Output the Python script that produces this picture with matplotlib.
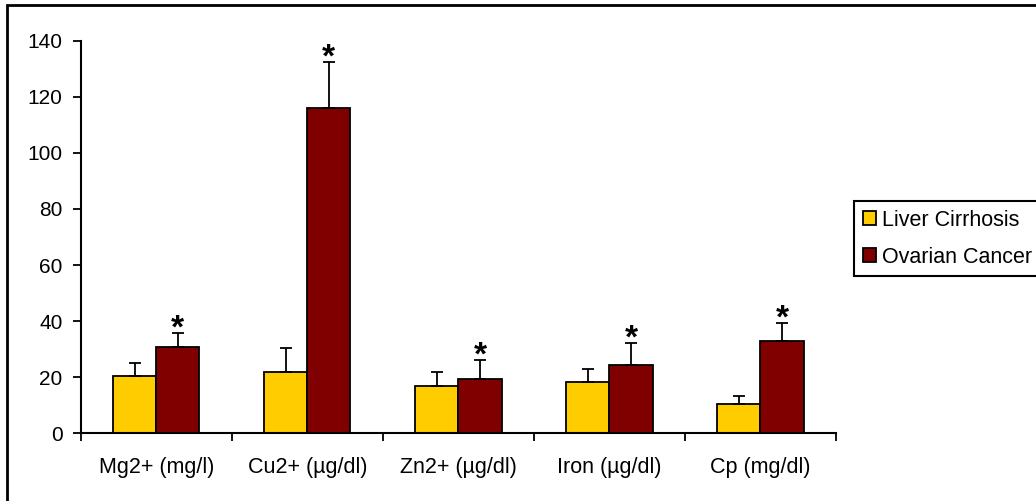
import matplotlib
matplotlib.use("Agg")
import matplotlib.pyplot as plt
import numpy as np
from matplotlib.patches import Rectangle

categories = ["Mg2+ (mg/l)", "Cu2+ (µg/dl)", "Zn2+ (µg/dl)", "Iron (µg/dl)", "Cp (mg/dl)"]
liver_cirrhosis = [20.5, 21.9, 17.0, 18.2, 10.3]
liver_cirrhosis_err = [4.5, 8.5, 5.0, 4.8, 3.1]
ovarian_cancer = [30.9, 116.1, 19.4, 24.3, 32.8]
ovarian_cancer_err = [5.0, 16.4, 6.7, 8.0, 6.6]
significant = [True, True, True, True, True]
series_names = ["Liver Cirrhosis", "Ovarian Cancer"]
yticks = [0, 20, 40, 60, 80, 100, 120, 140]

plt.rcParams['font.family'] = ['Liberation Sans', 'DejaVu Sans']
W, H = 1036, 501
fig = plt.figure(figsize=(W/100, H/100), dpi=100)
ax = fig.add_axes([80.7/W, 1-433.3/H, (836-80.7)/W, (433.3-40.7)/H])

x = np.arange(len(categories))
bw = 0.286
c1, c2 = "#FFCC00", "#800000"
ax.bar(x - bw/2, liver_cirrhosis, bw, color=c1, edgecolor="black", linewidth=1.3,
       yerr=[np.zeros(len(x)), liver_cirrhosis_err], capsize=4,
       error_kw=dict(elinewidth=1.3, capthick=1.3, ecolor="black"), label=series_names[0], zorder=2)
ax.bar(x + bw/2, ovarian_cancer, bw, color=c2, edgecolor="black", linewidth=1.3,
       yerr=[np.zeros(len(x)), ovarian_cancer_err], capsize=4,
       error_kw=dict(elinewidth=1.3, capthick=1.3, ecolor="black"), label=series_names[1], zorder=2)

for i, s in enumerate(significant):
    if s:
        ax.annotate("*", (x[i] + bw/2, ovarian_cancer[i] + ovarian_cancer_err[i]),
                    xytext=(0, -8.5), textcoords="offset points", ha="center", va="bottom",
                    fontsize=24, fontweight="bold")

ax.set_xlim(-0.5, len(categories) - 0.5)
ax.set_ylim(0, 140)
ax.set_yticks(yticks)
ax.set_xticks(np.arange(len(categories) + 1) - 0.5, minor=False)
ax.set_xticklabels([])
ax.set_xticks(x, minor=True)
ax.set_xticklabels(categories, minor=True)
ax.tick_params(axis="x", which="minor", length=0, pad=17, labelsize=15.5)
ax.tick_params(axis="x", which="major", length=6, width=1.3, direction="out")
ax.tick_params(axis="y", length=6, width=1.3, direction="out", pad=7, labelsize=15)
for sp in ["top", "right"]:
    ax.spines[sp].set_visible(False)
for sp in ["left", "bottom"]:
    ax.spines[sp].set_linewidth(1.5)

leg = fig.legend(loc="upper left", bbox_to_anchor=(854/W, 1-201/H), borderaxespad=0,
                 fontsize=15.5, frameon=True, fancybox=False, framealpha=1,
                 handlelength=0.6, handleheight=0.6, handletextpad=0.3,
                 labelspacing=0.75, borderpad=0.4)
leg.get_frame().set_edgecolor("black")
leg.get_frame().set_linewidth(1.5)

fig.patches.append(Rectangle((7/W, -0.1), 1.2, 1 - 5/H + 0.1, transform=fig.transFigure,
                             fill=False, edgecolor="black", linewidth=2))

fig.savefig("out.png", dpi=100)
